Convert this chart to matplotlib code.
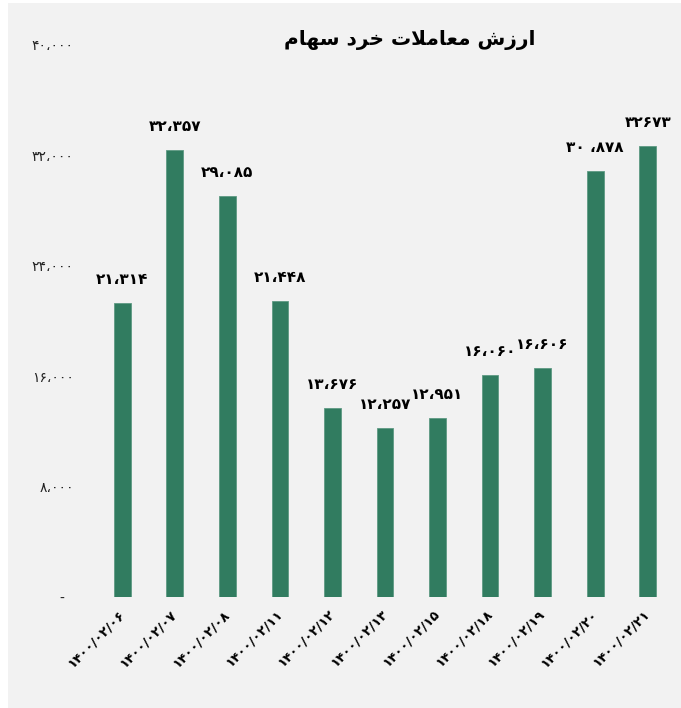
import matplotlib
matplotlib.use("Agg")
import matplotlib.pyplot as plt
from matplotlib.patches import Rectangle

# ==========================================================================
#     ارزش معاملات خرد سهام  (retail trading value)
# ==========================================================================

dates = ['۱۴۰۰/۰۲/۰۶', '۱۴۰۰/۰۲/۰۷', '۱۴۰۰/۰۲/۰۸', '۱۴۰۰/۰۲/۱۱', '۱۴۰۰/۰۲/۱۲',
         '۱۴۰۰/۰۲/۱۳', '۱۴۰۰/۰۲/۱۵', '۱۴۰۰/۰۲/۱۸', '۱۴۰۰/۰۲/۱۹', '۱۴۰۰/۰۲/۲۰',
         '۱۴۰۰/۰۲/۲۱']
values = [21314, 32357, 29085, 21448, 13676, 12257, 12951, 16060, 16606, 30878, 32673]
value_labels = ['۲۱،۳۱۴', '۳۲،۳۵۷', '۲۹،۰۸۵', '۲۱،۴۴۸', '۱۳،۶۷۶', '۱۲،۲۵۷',
                '۱۲،۹۵۱', '۱۶،۰۶۰', '۱۶،۶۰۶', '۳۰ ،۸۷۸', '۳۲۶۷۳']
yticks = [0, 8000, 16000, 24000, 32000, 40000]
ytick_labels = ['-  ', '۸،۰۰۰', '۱۶،۰۰۰', '۲۴،۰۰۰', '۳۲،۰۰۰', '۴۰،۰۰۰']

# title already shaped (presentation forms, visual order) since matplotlib has no Arabic shaping
title = ('\uFEE1\uFE8E\uFEEC\uFEB3' + ' ' + '\uFEA9\uFEAE\uFEA7' + ' ' +
         '\uFE95\uFEFC\uFEE3\uFE8E\uFECC\uFEE3' + ' ' + '\uFEB5\uFEAF\uFEAD\uFE8D')

plt.rcParams['font.family'] = ['DejaVu Sans']

fig = plt.figure(figsize=(6.81, 7.08), dpi=100, facecolor='white')
fig.patches.append(Rectangle((8 / 681, 0), 1, 1 - 3 / 708, transform=fig.transFigure,
                             facecolor='#F2F2F2', edgecolor='none', zorder=-10))

ax = fig.add_axes([96 / 681, 111 / 708, 578 / 681, 552 / 708])
ax.set_facecolor('none')

x = list(range(len(values)))
ax.bar(x, values, width=0.32, color='#317C60', edgecolor='#5E9A83', linewidth=0.6)

for i, v in enumerate(values):
    ax.annotate(value_labels[i], (i, v), xytext=(0, 17), textcoords='offset points',
                ha='center', va='center', fontsize=11, fontweight='bold', color='black')

ax.set_xlim(-0.5, len(values) - 0.5)
ax.set_ylim(0, 40000)
ax.set_yticks(yticks)
ax.set_yticklabels(ytick_labels, fontsize=10, color='#222222')
ax.set_xticks(x)
ax.set_xticklabels(dates, rotation=45, ha='right', va='center', rotation_mode='anchor',
                   fontsize=9.5, fontweight='bold')
ax.tick_params(axis='y', length=0, pad=16)
ax.tick_params(axis='x', length=0, pad=11)
for s in ax.spines.values():
    s.set_visible(False)

fig.text(410 / 681, 1 - 40 / 708, title, ha='center', va='center',
         fontsize=14.5, fontweight='bold')

fig.savefig('out.png', dpi=100, facecolor=fig.get_facecolor())
